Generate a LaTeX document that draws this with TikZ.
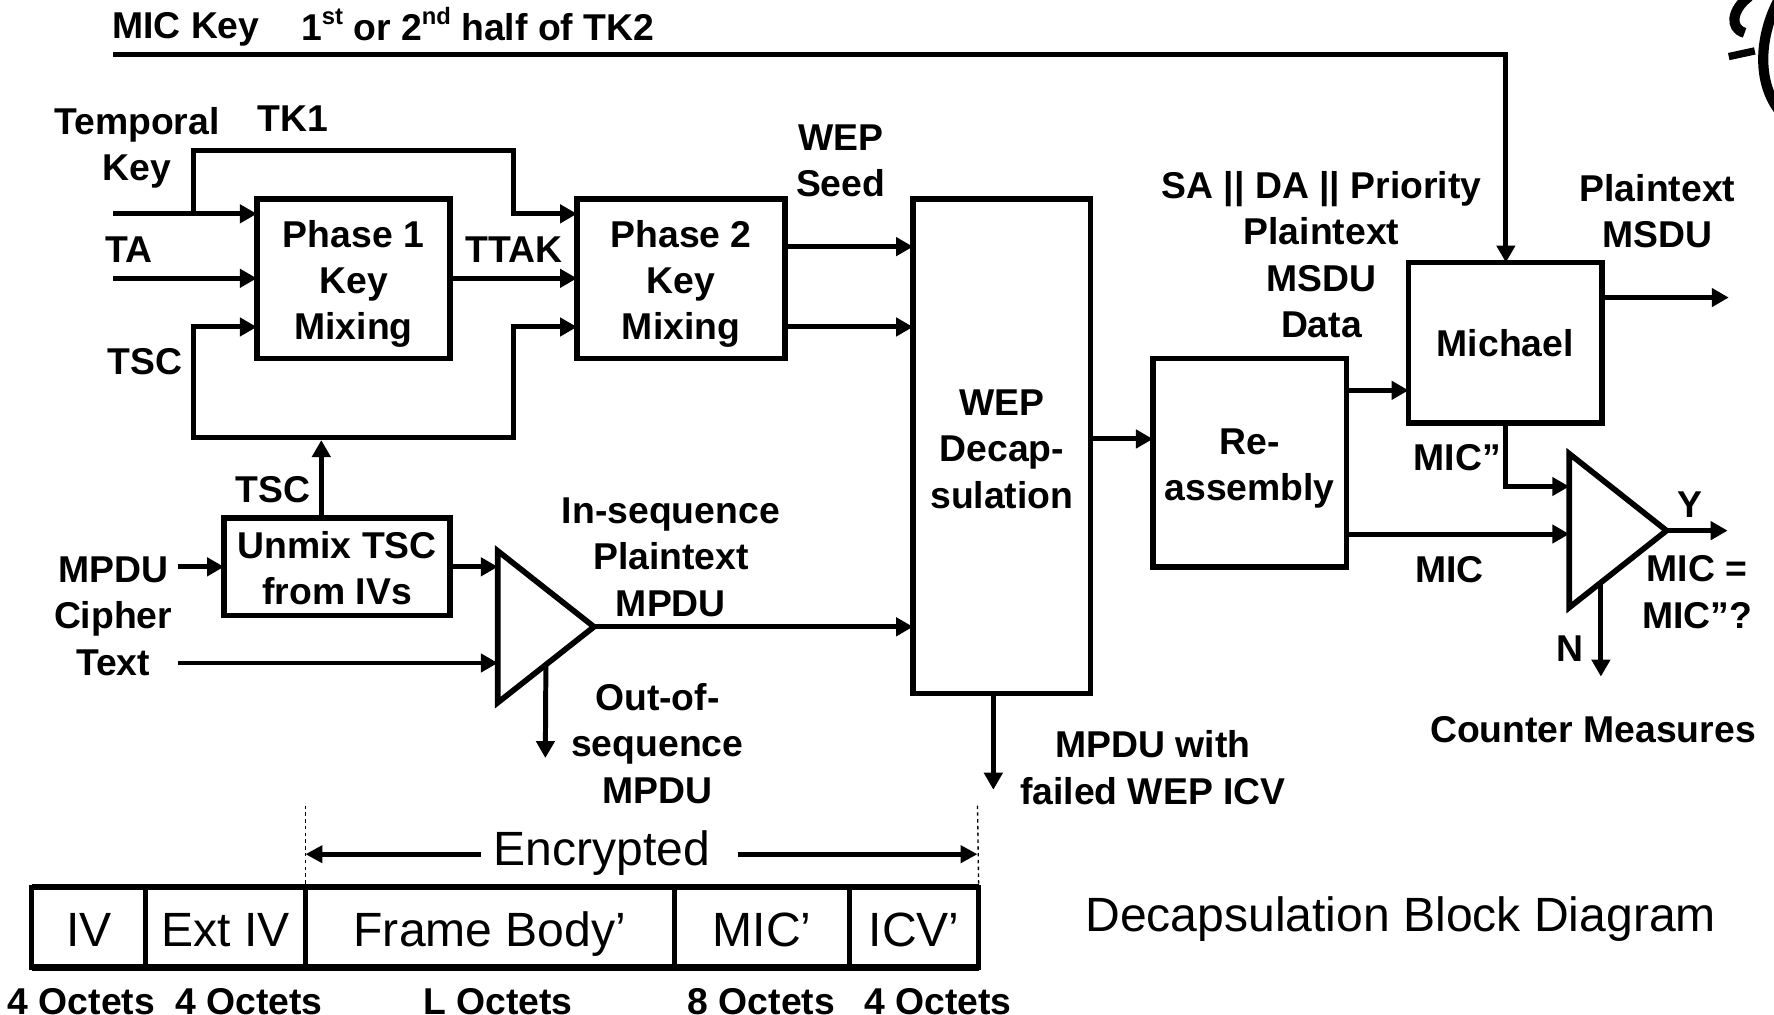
\documentclass[tikz,border=0pt]{standalone}
\usepackage{fontspec}
\setmainfont{Liberation Sans}
\usetikzlibrary{arrows.meta,shapes.geometric,calc}
\tikzset{
  arr/.style={line width=4.4pt,-{Triangle[length=15pt,width=16pt]}},
  wire/.style={line width=4.4pt},
  blk/.style={draw,line width=5pt,rectangle,inner sep=0pt,outer sep=0pt,align=center,font=\lab},
  tri/.style={draw,line width=5pt,isosceles triangle,isosceles triangle stretches,inner sep=0pt,outer sep=0pt,anchor=apex},
  lab/.style={font=\lab,align=center,inner sep=0pt},
  big/.style={font=\bigt,inner sep=0pt},
  cell/.style={draw,line width=4.4pt,rectangle,inner sep=0pt,outer sep=0pt,minimum height=71pt,font=\bigt,text height=40pt,text depth=5pt}
}
\newcommand{\lab}{\fontsize{33}{41}\selectfont\bfseries}
\newcommand{\bigt}{\fontsize{42.5}{48}\selectfont}
\newcommand{\sups}[1]{\raisebox{0.42em}{\fontsize{21}{21}\selectfont\bfseries #1}}
\newcommand{\lowr}[1]{\rule{0pt}{#1}}
\begin{document}
\begin{tikzpicture}[x=1pt,y=-1pt]
\useasboundingbox (0,0) rectangle (1568,897);
\begin{scope}
\clip (0,0) rectangle (1568,897);
% boxes
\node[blk,minimum width=171pt,minimum height=141pt] (p1) at (312.5,246.5) {\lowr{33pt}Phase 1\\Key\\Mixing};
\node[blk,minimum width=184pt,minimum height=141pt] (p2) at (602,246.5) {\lowr{33pt}Phase 2\\Key\\Mixing};
\node[blk,minimum width=157pt,minimum height=437pt] (wep) at (885.5,394.5) {\lowr{28pt}WEP\\Decap-\\sulation};
\node[blk,minimum width=171pt,minimum height=184pt] (re) at (1104.5,409) {\lowr{33pt}Re-\\assembly};
\node[blk,minimum width=171pt,minimum height=142pt] (mi) at (1330.5,303) {Michael};
\node[blk,minimum width=200pt,minimum height=86pt] (um) at (298,501) {\lowr{26pt}Unmix TSC\\from IVs};
\node[tri,minimum width=134pt,minimum height=85pt] (t1) at (525,554) {};
\node[tri,minimum width=136pt,minimum height=86pt] (t2) at (1473,469) {};
% named free ends
\coordinate (mk) at (100,48);
\coordinate (mkc) at (1331,48);
\coordinate (tk) at (100,189);
\coordinate (tkb) at (171,189);
\coordinate (ta) at (100,246);
\coordinate (tl) at (171,387);
\coordinate (tr) at (454,387);
\coordinate (mp) at (157,501);
\coordinate (ct) at (157,586);
\coordinate (wd) at (878,698);
\coordinate (mo) at (1528,263);
\coordinate (yo) at (1527,469);
\coordinate (ns) at (1415,515);
\coordinate (ne) at (1415,598);
\coordinate (od) at (482,670);
% connectors
\draw[arr] (mk) -- (mkc) -- (mkc |- mi.north);
\draw[arr] (tk) -- (tk -| p1.west);
\draw[wire] (tkb) -- (171,133) -- (454,133) -- (454,189);
\draw[arr] (452,189) -- (p2.west |- tk);
\draw[arr] (ta) -- (ta -| p1.west);
\draw[arr] (p1.east |- ta) -- (p2.west |- ta);
\draw[arr] (um.north -| 284,0) -- (284,389);
\draw[arr] (tl) -- (171,289) -- (p1.west |- 0,289);
\draw[wire] (169,387) -- (456,387);
\draw[arr] (tr) -- (454,289) -- (p2.west |- 0,289);
\draw[arr] (p2.east |- 0,218) -- (wep.west |- 0,218);
\draw[arr] (p2.east |- 0,289) -- (wep.west |- 0,289);
\draw[arr] (mp) -- (um.west |- mp);
\draw[arr] (um.east) -- (t1.lower side |- um.east);
\draw[arr] (ct) -- (t1.lower side |- ct);
\draw[arr] (t1.apex) -- (wep.west |- t1.apex);
\draw[arr] (t1.right side) -- (od);
\draw[arr] (wep.east |- 0,388) -- (re.west |- 0,388);
\draw[arr] (wd |- wep.south) -- (wd);
\draw[arr] (re.east |- 0,345) -- (mi.west |- 0,345);
\draw[arr] (re.east |- 0,472) -- (t2.lower side |- 0,472);
\draw[arr] (mi.east |- mo) -- (mo);
\draw[arr] (mi.south) -- (mi.south |- 0,430) -- (t2.lower side |- 0,430);
\draw[arr] (t2.apex) -- (yo);
\draw[arr] (ns) -- (ne);
% labels
\node[lab,anchor=west] (l1) at (99,26) {MIC Key};
\node[lab,anchor=west] (l2) at (266,21) {1\sups{st} or 2\sups{nd} half of TK2};
\node[lab] (l3) at (121,130.5) {Temporal\\Key};
\node[lab] (l4) at (259,105) {TK1};
\node[lab] (l5) at (114,221) {TA};
\node[lab] (l6) at (128,320) {TSC};
\node[lab] (l7) at (454,221) {TTAK};
\node[lab] (l8) at (743,142) {WEP\\Seed};
\node[lab] (l9) at (241,433) {TSC};
\node[lab] (l10) at (100,544.5) {MPDU\\Cipher\\Text};
\node[lab] (l11) at (593,492.5) {In-sequence\\Plaintext\\MPDU};
\node[lab] (l12) at (581,657) {Out-of-\\sequence\\MPDU};
\node[lab] (l13) at (1019,678.5) {MPDU with\\failed WEP ICV};
\node[lab] (l14) at (1168,225) {SA || DA || Priority\\Plaintext\\MSDU\\Data};
\node[lab] (l15) at (1465,186.5) {Plaintext\\MSDU};
\node[lab] (l16) at (1288,404.5) {MIC”};
\node[lab] (l17) at (1281,503.5) {MIC};
\node[lab] (l18) at (1494,446) {Y};
\node[lab] (l19) at (1500,523.5) {MIC =\\MIC”?};
\node[lab] (l20) at (1388,573) {N};
\node[lab] (l21) at (1408,645) {Counter Measures};
\node[big] (enc) at (532,754) {Encrypted};
\node[big] (ttl) at (1238,812) {Decapsulation Block Diagram};
% frame
\node[cell,minimum width=101pt] (iv) at (78.5,819.5) {IV};
\node[cell,minimum width=141pt] (ext) at (199.5,819.5) {Ext IV};
\node[cell,minimum width=326pt] (fb) at (433,819.5) {Frame Body’};
\node[cell,minimum width=155pt] (mc) at (673.5,819.5) {MIC’};
\node[cell,minimum width=114pt] (ic) at (808,819.5) {ICV’};
\draw[line width=6pt] (iv.north west) -- (ic.north east);
\draw[line width=6pt] (iv.south west) -- (ic.south east);
\node[lab] (o1) at (72,885) {4 Octets};
\node[lab] (o2) at (220,885) {4 Octets};
\node[lab] (o3) at (440,885) {L Octets};
\node[lab] (o4) at (673,885) {8 Octets};
\node[lab] (o5) at (829,885) {4 Octets};
% encrypted span
\coordinate (dl) at (270,712);
\coordinate (dr) at (864,712);
\coordinate (al) at (425,755);
\coordinate (ar) at (652,755);
\draw[line width=1.2pt,dashed] (dl) -- (fb.north west);
\draw[line width=1.2pt,dashed] (dr) -- (ic.north east);
\draw[line width=4.4pt,-{Triangle[length=15pt,width=15pt]}] (al) -- (al -| dl);
\draw[line width=4.4pt,-{Triangle[length=15pt,width=15pt]}] (ar) -- (ar -| dr);
% calligraphic fragment at the corner
\draw[line width=9pt] (1546,-3) .. controls (1531,8) and (1528,25) .. (1542,29);
\draw[line width=6.5pt] (1528,50) -- (1551,45);
\draw[line width=9pt] (1572,0) .. controls (1556,30) and (1552,70) .. (1572,97);
\end{scope}
\end{tikzpicture}
\end{document}
